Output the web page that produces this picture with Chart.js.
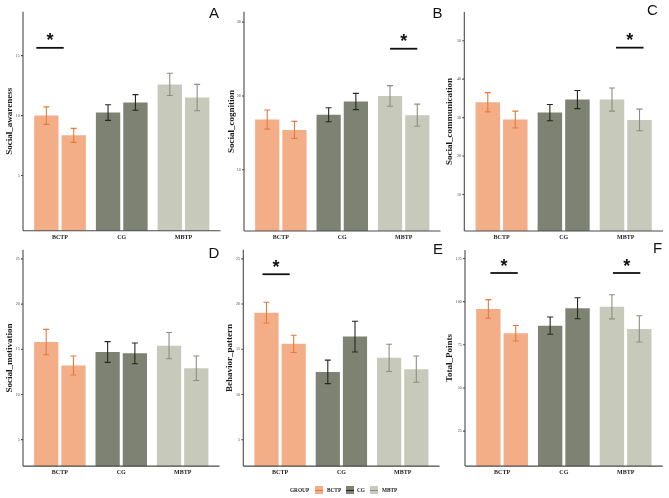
<!DOCTYPE html>
<html>
<head>
<meta charset="utf-8">
<script src="https://cdn.jsdelivr.net/npm/chart.js@4.4.0/dist/chart.umd.min.js"></script>
<style>
  body { margin: 0; background: #fff; width: 669px; height: 498px; overflow: hidden; position: relative; }
  canvas { position: absolute; }
  .lg { position: absolute; font: bold 5.3px "Liberation Serif", serif; color: #222; line-height: 8px; top: 486px; }
  .sw { position: absolute; top: 486px; width: 8px; height: 8px; }
  .sw i { position: absolute; left: 0; right: 0; top: 3.5px; height: 1px; }
</style>
</head>
<body>
<canvas id="pA"></canvas>
<canvas id="pB"></canvas>
<canvas id="pC"></canvas>
<canvas id="pD"></canvas>
<canvas id="pE"></canvas>
<canvas id="pF"></canvas>

<span class="lg" style="left:290px">GROUP</span>
<span class="sw" style="left:315px;background:#f3ae88"><i style="background:#e57a3e"></i></span>
<span class="lg" style="left:327px">BCTP</span>
<span class="sw" style="left:346px;background:#7e8272"><i style="background:#222"></i></span>
<span class="lg" style="left:357px">CG</span>
<span class="sw" style="left:370px;background:#c7c9ba"><i style="background:#8d8d83"></i></span>
<span class="lg" style="left:382px">MBTP</span>

<script>
const groups = ['BCTP', 'CG', 'MBTP'];

// A - Social_awareness
const awarenessPre = [10.0, 10.25, 12.6];
const awarenessPreErr = [0.73, 0.65, 0.93];
const awarenessPost = [8.35, 11.1, 11.5];
const awarenessPostErr = [0.58, 0.65, 1.1];
const awarenessTicks = [5, 10, 15];
const awarenessSigCats = [0];
const awarenessSigLevels = [15.65];

// B - Social_cognition
const cognitionPre = [16.8, 17.45, 20.0];
const cognitionPreErr = [1.3, 0.95, 1.4];
const cognitionPost = [15.4, 19.25, 17.4];
const cognitionPostErr = [1.15, 1.1, 1.5];
const cognitionTicks = [10, 20, 30];
const cognitionSigCats = [2];
const cognitionSigLevels = [26.4];

// C - Social_communication
const communicationPre = [34.0, 31.3, 34.7];
const communicationPreErr = [2.5, 2.1, 3.0];
const communicationPost = [29.5, 34.7, 29.4];
const communicationPostErr = [2.2, 2.35, 2.8];
const communicationTicks = [10, 20, 30, 40, 50];
const communicationSigCats = [2];
const communicationSigLevels = [48.2];

// D - Social_motivation
const motivationPre = [15.8, 14.7, 15.4];
const motivationPreErr = [1.4, 1.15, 1.45];
const motivationPost = [13.2, 14.55, 12.9];
const motivationPostErr = [1.05, 1.15, 1.35];
const motivationTicks = [5, 10, 15, 20, 25];
const motivationSigCats = [];
const motivationSigLevels = [];

// E - Behavior_pattern
const behaviorPre = [19.05, 12.5, 14.05];
const behaviorPreErr = [1.15, 1.3, 1.5];
const behaviorPost = [15.6, 16.4, 12.8];
const behaviorPostErr = [0.95, 1.7, 1.45];
const behaviorTicks = [5, 10, 15, 20, 25];
const behaviorSigCats = [0];
const behaviorSigLevels = [23.3];

// F - Total_Points
const totalPre = [95.8, 86.1, 97.0];
const totalPreErr = [5.4, 5.0, 7.0];
const totalPost = [81.7, 96.2, 84.2];
const totalPostErr = [4.5, 6.1, 7.6];
const totalTicks = [25, 50, 75, 100, 125];
const totalSigCats = [0, 2];
const totalSigLevels = [116.6, 116.6];

const barColors = ['#f3ae88', '#7e8272', '#c7c9ba'];
const errColors = ['#e57a3e', '#26261f', '#8d8d83'];

const decor = {
  id: 'decor',
  afterDatasetsDraw(chart) {
    const p = chart.options.plugins.decor;
    const { ctx, chartArea: a, scales: { y } } = chart;
    const ext = (a.right - a.left) / 30;
    ctx.save();

    // error bars
    chart.data.datasets.forEach((ds, di) => {
      chart.getDatasetMeta(di).data.forEach((bar, i) => {
        const hi = y.getPixelForValue(ds.data[i] + ds.err[i]);
        const lo = y.getPixelForValue(ds.data[i] - ds.err[i]);
        ctx.strokeStyle = errColors[i];
        ctx.lineWidth = 1.1;
        ctx.beginPath();
        ctx.moveTo(bar.x, hi); ctx.lineTo(bar.x, lo);
        ctx.moveTo(bar.x - 3, hi); ctx.lineTo(bar.x + 3, hi);
        ctx.moveTo(bar.x - 3, lo); ctx.lineTo(bar.x + 3, lo);
        ctx.stroke();
      });
    });

    // axes like ggplot classic (0.6 category expansion)
    const ax = a.left - ext;
    ctx.strokeStyle = '#4a4a4a';
    ctx.lineWidth = 1.1;
    ctx.beginPath();
    ctx.moveTo(ax, a.top); ctx.lineTo(ax, a.bottom);
    ctx.moveTo(ax, a.bottom); ctx.lineTo(a.right + ext, a.bottom);
    y.ticks.forEach(t => {
      const py = y.getPixelForValue(t.value);
      ctx.moveTo(ax - 2, py); ctx.lineTo(ax, py);
    });
    ctx.stroke();

    // significance bars
    const m0 = chart.getDatasetMeta(0), m1 = chart.getDatasetMeta(1);
    p.sigCats.forEach((c, k) => {
      const sh = p.sigShift[k] || 0;
      const x1 = m0.data[c].x + sh, x2 = m1.data[c].x + sh;
      const py = y.getPixelForValue(p.sigLevels[k]);
      ctx.strokeStyle = '#111';
      ctx.lineWidth = 1.8;
      ctx.beginPath();
      ctx.moveTo(x1, py); ctx.lineTo(x2, py);
      ctx.stroke();
      ctx.fillStyle = '#111';
      ctx.font = 'bold 18px "Liberation Sans", sans-serif';
      ctx.textAlign = 'center';
      ctx.textBaseline = 'alphabetic';
      ctx.fillText('*', (x1 + x2) / 2, py - 1.5);
    });

    // panel letter
    ctx.fillStyle = '#111';
    ctx.font = '15px "Liberation Sans", sans-serif';
    ctx.textAlign = 'center';
    ctx.textBaseline = 'alphabetic';
    ctx.fillText(p.letter, p.letterX, p.letterY);
    ctx.restore();
  }
};

function panel(id, L, title, pre, preErr, post, postErr, tickVals, sigCats, sigLevels) {
  const cv = document.getElementById(id);
  cv.style.left = L.x0 + 'px';
  cv.style.top = L.y0 + 'px';
  cv.width = L.w;
  cv.height = L.h;
  const ext = (L.right - L.left) / 32;
  const areaLeft = L.left + ext, areaRight = L.right - ext;

  new Chart(cv, {
    type: 'bar',
    data: {
      labels: groups,
      datasets: [
        { data: pre, err: preErr, backgroundColor: barColors, clip: 0,
          categoryPercentage: 0.887, barPercentage: 0.89 },
        { data: post, err: postErr, backgroundColor: barColors, clip: 0,
          categoryPercentage: 0.887, barPercentage: 0.89 }
      ]
    },
    options: {
      responsive: false,
      animation: false,
      layout: {
        padding: { left: 0, top: L.top - L.y0, right: L.x0 + L.w - areaRight, bottom: 0 }
      },
      scales: {
        x: {
          grid: { display: false, drawTicks: false },
          border: { display: false },
          ticks: { color: '#222', padding: 3, font: { family: 'Liberation Serif', size: 6, weight: 'bold' } },
          afterFit: s => { s.height = L.y0 + L.h - L.bottom; }
        },
        y: {
          min: L.min,
          max: L.max,
          afterBuildTicks: s => { s.ticks = tickVals.map(v => ({ value: v })); },
          grid: { display: false, drawTicks: false },
          border: { display: false },
          ticks: { color: '#444', padding: ext + 3.3, font: { family: 'Liberation Serif', size: 4 } },
          title: {
            display: true,
            text: title,
            color: '#1a1a1a',
            padding: { top: L.titleX - L.x0 - 4.5, bottom: 0 },
            font: { family: 'Liberation Serif', size: 9, weight: 'bold', lineHeight: 1 }
          },
          afterFit: s => { s.width = areaLeft - L.x0; }
        }
      },
      plugins: {
        legend: { display: false },
        tooltip: { enabled: false },
        decor: {
          letter: L.letter, letterX: L.letterX - L.x0, letterY: L.letterY - L.y0,
          sigCats: sigCats, sigLevels: sigLevels, sigShift: L.sigShift
        }
      }
    },
    plugins: [decor]
  });
}

panel('pA', { x0: 0, y0: 0, w: 224, h: 244, left: 23, right: 220.5, top: 10, bottom: 230.7,
  min: 0.4, max: 18.65, titleX: 10, letter: 'A', letterX: 214, letterY: 18, sigShift: [-10] },
  'Social_awareness', awarenessPre, awarenessPreErr, awarenessPost, awarenessPostErr,
  awarenessTicks, awarenessSigCats, awarenessSigLevels);

panel('pB', { x0: 220, y0: 0, w: 224, h: 244, left: 244, right: 440.5, top: 9.3, bottom: 231,
  min: 1.7, max: 31.4, titleX: 232, letter: 'B', letterX: 437.5, letterY: 18, sigShift: [0] },
  'Social_cognition', cognitionPre, cognitionPreErr, cognitionPost, cognitionPostErr,
  cognitionTicks, cognitionSigCats, cognitionSigLevels);

panel('pC', { x0: 440, y0: 0, w: 229, h: 244, left: 464.3, right: 663, top: 10, bottom: 231,
  min: 0.5, max: 57.5, titleX: 450, letter: 'C', letterX: 652.5, letterY: 15, sigShift: [4] },
  'Social_communication', communicationPre, communicationPreErr, communicationPost, communicationPostErr,
  communicationTicks, communicationSigCats, communicationSigLevels);

panel('pD', { x0: 0, y0: 238, w: 224, h: 240, left: 23, right: 219.5, top: 246.7, bottom: 466.7,
  min: 2.07, max: 26, titleX: 10, letter: 'D', letterX: 214, letterY: 258, sigShift: [] },
  'Social_motivation', motivationPre, motivationPreErr, motivationPost, motivationPostErr,
  motivationTicks, motivationSigCats, motivationSigLevels);

panel('pE', { x0: 220, y0: 238, w: 224, h: 240, left: 243.3, right: 439.5, top: 246.7, bottom: 466.7,
  min: 2.07, max: 26, titleX: 230, letter: 'E', letterX: 438, letterY: 254, sigShift: [-4] },
  'Behavior_pattern', behaviorPre, behaviorPreErr, behaviorPost, behaviorPostErr,
  behaviorTicks, behaviorSigCats, behaviorSigLevels);

panel('pF', { x0: 440, y0: 238, w: 229, h: 240, left: 465, right: 662.7, top: 246.7, bottom: 466.7,
  min: 4.7, max: 130, titleX: 450, letter: 'F', letterX: 657.5, letterY: 253, sigShift: [2, 1] },
  'Total_Points', totalPre, totalPreErr, totalPost, totalPostErr,
  totalTicks, totalSigCats, totalSigLevels);
</script>
</body>
</html>
